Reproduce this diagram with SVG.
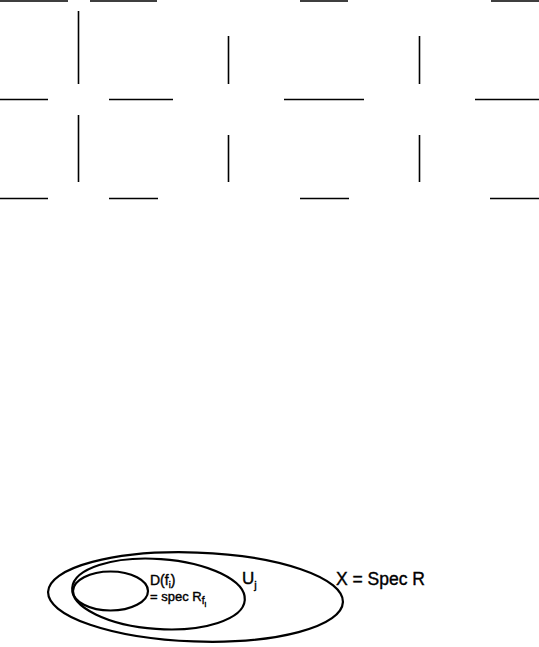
<svg xmlns="http://www.w3.org/2000/svg" width="539" height="647" viewBox="0 0 539 647">
<style>
.ln{stroke:#000;stroke-width:1.6;fill:none}
.el{stroke:#000;stroke-width:2.2;fill:none}
.t{font-family:"Liberation Sans","DejaVu Sans",sans-serif;fill:#000;stroke:#000;stroke-width:0.4}
</style>
<rect width="539" height="647" fill="#fff"/>
<g id="grid-lines">
<path class="ln" d="M0,1H68M90,1H157M300,1H348M491,1H539"/>
<path class="ln" d="M0,99.5H48M109,99.5H173M284,99.5H364M475,99.5H539"/>
<path class="ln" d="M0,198.5H48M109,198.5H158M300,198.5H349M490,198.5H539"/>
<path class="ln" d="M78.5,11V84M78.5,115V182M228.5,36V84M228.5,135V182M419.5,36V84M419.5,135V182"/>
</g>
<g id="outer-X">
<ellipse class="el" cx="195.5" cy="597" rx="147.5" ry="44.5" transform="rotate(2 195.5 597)"/>
<text class="t" x="336" y="585" font-size="18" textLength="89" lengthAdjust="spacingAndGlyphs">X = Spec R</text>
</g>
<g id="middle-Uj">
<ellipse class="el" cx="158.5" cy="594" rx="86.5" ry="35" transform="rotate(4 158.5 594)"/>
<text class="t" x="242" y="584" font-size="17">U<tspan font-size="11" dy="5">j</tspan></text>
</g>
<g id="inner-D">
<ellipse class="el" cx="110.5" cy="591" rx="37.5" ry="19.5"/>
<text class="t" x="150" y="585" font-size="14">D(f<tspan font-size="9" dy="3">i</tspan><tspan dy="-3">)</tspan></text>
<text class="t" x="150" y="601" font-size="13">= spec R<tspan font-size="10" dy="3">f</tspan><tspan font-size="8" dy="3">i</tspan></text>
</g>
</svg>
